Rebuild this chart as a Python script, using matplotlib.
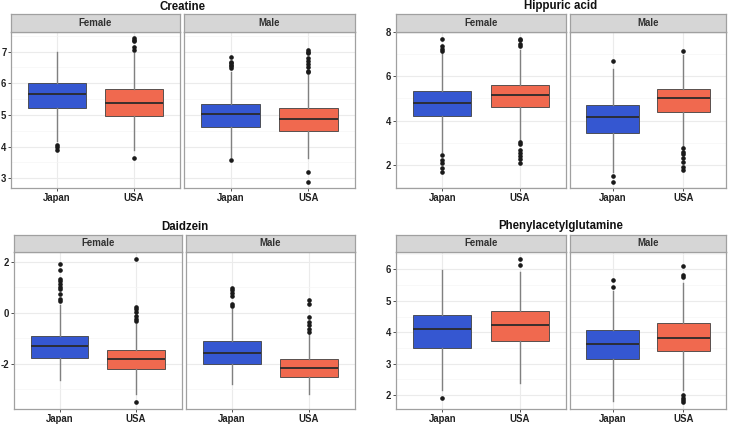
import matplotlib
matplotlib.use("Agg")
import matplotlib.pyplot as plt
import numpy as np

plt.rcParams['font.family'] = ['Liberation Sans', 'DejaVu Sans']
plt.rcParams['axes.unicode_minus'] = False

groups = ["Japan", "USA"]
sexes = ["Female", "Male"]
metabolites = ["Creatine", "Hippuric acid", "Daidzein", "Phenylacetylglutamine"]

# five-number stats per box: [whisker low, Q1, median, Q3, whisker high]
# order: Female-Japan, Female-USA, Male-Japan, Male-USA
creatine_stats = [[4.16, 5.23, 5.65, 6.00, 7.00],
                  [3.90, 4.97, 5.39, 5.81, 6.95],
                  [3.68, 4.63, 5.02, 5.34, 6.37],
                  [3.63, 4.50, 4.87, 5.23, 6.26]]
creatine_outliers = [[4.05, 3.98, 3.89],
                     [7.42, 7.37, 7.32, 7.16, 7.05, 3.63],
                     [6.84, 6.68, 6.63, 6.58, 6.53, 6.47, 3.56],
                     [7.05, 7.00, 6.95, 6.80, 6.70, 6.60, 6.50, 6.40, 6.35, 3.18, 2.89]]

hippuric_stats = [[2.60, 4.21, 4.81, 5.35, 7.03],
                  [3.13, 4.60, 5.15, 5.63, 7.18],
                  [1.70, 3.42, 4.17, 4.70, 6.35],
                  [2.83, 4.40, 5.03, 5.45, 6.95]]
hippuric_outliers = [[7.67, 7.36, 7.25, 7.15, 2.45, 2.22, 2.07, 1.85, 1.70],
                     [7.70, 7.62, 7.45, 7.36, 3.05, 2.95, 2.67, 2.52, 2.40, 2.25, 2.10],
                     [6.70, 1.52, 1.25],
                     [7.15, 2.75, 2.60, 2.50, 2.30, 2.15, 1.93, 1.78]]

daidzein_stats = [[-2.66, -1.76, -1.32, -0.91, 0.30],
                  [-3.18, -2.20, -1.80, -1.45, -0.43],
                  [-2.79, -2.01, -1.59, -1.10, 0.16],
                  [-3.18, -2.52, -2.17, -1.80, -0.82]]
daidzein_outliers = [[1.91, 1.67, 1.34, 1.25, 1.15, 1.02, 0.93, 0.72, 0.53, 0.45],
                     [2.13, 0.23, 0.14, 0.03, -0.12, -0.23, -0.33, -3.51],
                     [0.98, 0.89, 0.78, 0.66, 0.36, 0.27],
                     [0.49, 0.36, -0.16, -0.36, -0.49, -0.62, -0.75]]

phenyl_stats = [[2.16, 3.50, 4.10, 4.54, 5.97],
                [2.40, 3.71, 4.22, 4.67, 5.90],
                [1.81, 3.16, 3.64, 4.06, 5.30],
                [2.16, 3.40, 3.83, 4.30, 5.58]]
phenyl_outliers = [[1.92],
                   [6.34, 6.15],
                   [5.67, 5.44],
                   [6.10, 5.83, 5.76, 2.02, 1.90, 1.84, 1.77]]

all_stats = [creatine_stats, hippuric_stats, daidzein_stats, phenyl_stats]
all_outliers = [creatine_outliers, hippuric_outliers, daidzein_outliers, phenyl_outliers]
yticks = [[3, 4, 5, 6, 7], [2, 4, 6, 8], [-2, 0, 2], [2, 3, 4, 5, 6]]
ylims = [(2.69, 7.62), (0.96, 8.0), (-3.77, 2.39), (1.57, 6.55)]

colors = ["#3557D1", "#F0694F"]

W, H = 743, 424
fig = plt.figure(figsize=(W / 100, H / 100), dpi=100)

# layout in pixels: (female x0, x1), (male x0, x1), strip top, panel top, panel bottom, title baseline
layouts = [((11, 180), (184, 355), 14, 32, 188, 9.5),
           ((396, 566), (570, 726), 14, 32, 188, 9.5),
           ((14, 181.7), (186, 355), 234.7, 252, 408.7, 230),
           ((396, 566), (570, 726), 234.7, 252, 408.7, 229.5)]


def fax(x0, x1, y0, y1):
    return fig.add_axes([x0 / W, 1 - y1 / H, (x1 - x0) / W, (y1 - y0) / H])


for m, name in enumerate(metabolites):
    fx, mx, st, pt, pb, ty = layouts[m]
    for s, (x0, x1) in enumerate([fx, mx]):
        ax = fax(x0, x1, pt, pb)
        stats = []
        for g in range(2):
            lo, q1, med, q3, hi = all_stats[m][s * 2 + g]
            stats.append(dict(whislo=lo, q1=q1, med=med, q3=q3, whishi=hi,
                              fliers=all_outliers[m][s * 2 + g], label=groups[g]))
        bp = ax.bxp(stats, positions=[1, 2], widths=0.75, patch_artist=True,
                    showcaps=False,
                    boxprops=dict(edgecolor="#404040", linewidth=0.6),
                    medianprops=dict(color="#2a2a2a", linewidth=1.3),
                    whiskerprops=dict(color="#808080", linewidth=1.0),
                    flierprops=dict(marker='o', markerfacecolor='#1a1a1a',
                                    markeredgecolor='#1a1a1a', markersize=2.3))
        for patch, c in zip(bp['boxes'], colors):
            patch.set_facecolor(c)
        ax.set_xlim(0.4, 2.6)
        ax.set_ylim(*ylims[m])
        ax.set_facecolor("white")
        ax.set_yticks(yticks[m])
        ax.set_xticks([1, 2])
        ax.set_xticklabels(groups)
        minor = [(a + b) / 2 for a, b in zip(yticks[m][:-1], yticks[m][1:])]
        lo_, hi_ = ylims[m]
        step = yticks[m][1] - yticks[m][0]
        ext = [yticks[m][0] - step / 2, yticks[m][-1] + step / 2]
        minor = [v for v in minor + ext if lo_ < v < hi_]
        ax.set_yticks(minor, minor=True)
        ax.grid(True, which='major', color="#EBEBEB", linewidth=0.8, zorder=0)
        ax.grid(True, which='minor', axis='y', color="#F5F5F5", linewidth=0.5, zorder=0)
        ax.tick_params(axis='y', which='minor', length=0)
        ax.set_axisbelow(True)
        for sp in ax.spines.values():
            sp.set_color("#A0A0A0")
            sp.set_linewidth(0.9)
        ax.tick_params(axis='both', which='major', length=2.3, width=0.6, color="#333333",
                       labelsize=6.9, labelcolor="#222222", pad=1.5)
        ax.tick_params(axis='y', pad=1.0)
        for lab in ax.get_xticklabels() + ax.get_yticklabels():
            lab.set_fontweight('bold')
        if s == 1:
            ax.tick_params(axis='y', which='both', left=False, labelleft=False)
        # strip
        sax = fax(x0, x1, st, pt)
        sax.set_facecolor("#D6D6D6")
        sax.set_xticks([])
        sax.set_yticks([])
        for sp in sax.spines.values():
            sp.set_color("#A0A0A0")
            sp.set_linewidth(0.9)
        sax.text(0.5, 0.5, sexes[s], ha='center', va='center', fontsize=6.9,
                 color="#303030", fontweight='bold', transform=sax.transAxes)
    cx = (fx[0] + mx[1]) / 2
    fig.text(cx / W, 1 - ty / H, name, ha='center', va='baseline', fontsize=8.3,
             fontweight='bold', color="#111111")

fig.savefig("out.png", dpi=100)
